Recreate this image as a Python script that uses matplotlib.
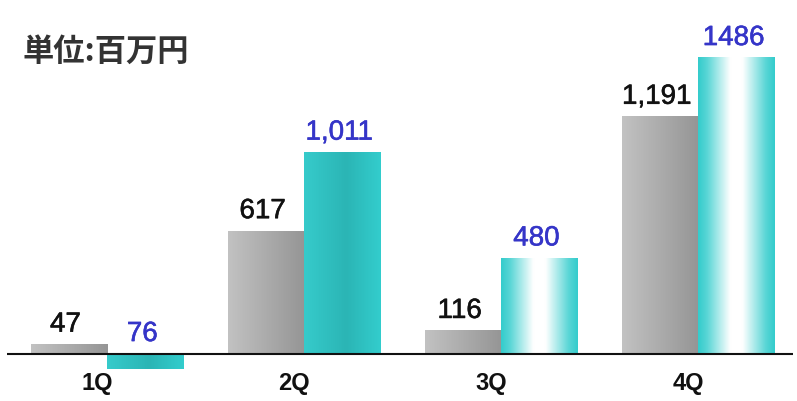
#!/usr/bin/env python3

import numpy as np
import matplotlib
matplotlib.use("Agg")
import matplotlib.pyplot as plt
import matplotlib.patheffects as pe
from matplotlib.colors import LinearSegmentedColormap


quarters = ["1Q", "2Q", "3Q", "4Q"]
prev_year = [47, 617, 116, 1191]
this_year = [-76, 1011, 480, 1486]
prev_labels = ["47", "617", "116", "1,191"]
this_labels = ["76", "1,011", "480", "1486"]

gray_cm = LinearSegmentedColormap.from_list("gray", ["#c2c2c2", "#959595"])
teal_cm = LinearSegmentedColormap.from_list(
    "teal", [(0, "#36cbcb"), (0.55, "#2bb5b5"), (1, "#33cdcd")])
shine_cm = LinearSegmentedColormap.from_list(
    "shine", [(0, "#33cccc"), (0.12, "#5ad6d6"), (0.42, "#ffffff"),
              (0.58, "#ffffff"), (0.88, "#5ad6d6"), (1, "#33cccc")])
this_cms = [teal_cm, teal_cm, shine_cm, shine_cm]

W, H = 797, 402
fig = plt.figure(figsize=(W / 100, H / 100), dpi=100)
ax = fig.add_axes([7 / W, 0, 786 / W, 1])

grad = np.linspace(0, 1, 256).reshape(1, -1)
width = 0.386
x = np.arange(len(quarters))


def gbar(xl, val, cmap):
    y0, y1 = (0, val) if val >= 0 else (val, 0)
    ax.imshow(grad, cmap=cmap, aspect="auto", interpolation="bicubic",
              extent=[xl, xl + width, y0, y1], origin="lower", zorder=2)


def heavy(c):
    return [pe.withStroke(linewidth=0.4, foreground=c)]


for i in range(len(quarters)):
    gbar(x[i] - width, prev_year[i], gray_cm)
    gbar(x[i], this_year[i], this_cms[i])
    ax.annotate(prev_labels[i], (x[i] - width / 2, max(prev_year[i], 0)),
                xytext=(-2.5, 5), textcoords="offset points", ha="center",
                va="bottom", fontsize=20, color="#111111",
                family="Liberation Sans", path_effects=heavy("#111111"))
    ax.annotate(this_labels[i], (x[i] + width / 2, max(this_year[i], 0)),
                xytext=(-2, 5), textcoords="offset points", ha="center",
                va="bottom", fontsize=20, color="#3535c8",
                family="Liberation Sans", path_effects=heavy("#3535c8"))
    ax.text(x[i] - 0.05, -142, quarters[i], ha="center", va="center",
            fontsize=17, fontweight="bold", color="#111111",
            family="Liberation Sans")

ax.axhline(0, color="#111111", lw=1.5, zorder=3)
ax.set_xlim(-0.507, 3.48)
ax.set_ylim(-(H - 355) / 0.1992, 355 / 0.1992)
ax.axis("off")

fig.text(22 / W, 1 - 52 / H, "単位:百万円", ha="left", va="center",
         fontsize=22.5, fontweight="bold", color="#333333",
         family=["Noto Sans CJK JP", "DejaVu Sans"])

fig.savefig("out.png", dpi=100)
